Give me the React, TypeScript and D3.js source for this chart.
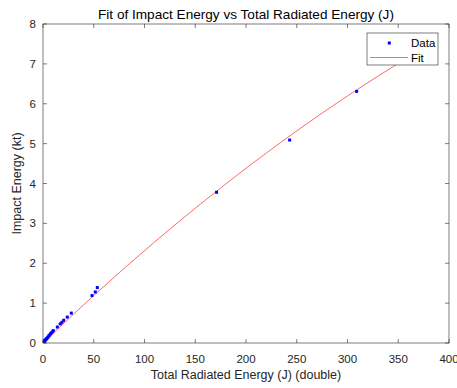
import * as d3 from 'd3'

// measured points (Total Radiated Energy J, Impact Energy kt)
const dataX = [0.3, 0.8, 1.3, 1.8, 2.4, 3.0, 3.6, 4.3, 5.0, 5.8, 6.6, 7.4, 8.2, 9.2, 10.2, 14.1, 17.0, 18.7, 20.4, 23.9, 27.9, 48.3, 51.5, 53.5, 171, 243, 309]
const dataY = [0.01, 0.03, 0.04, 0.06, 0.08, 0.09, 0.11, 0.13, 0.15, 0.18, 0.2, 0.23, 0.25, 0.28, 0.31, 0.4, 0.48, 0.52, 0.57, 0.65, 0.75, 1.19, 1.28, 1.39, 3.78, 5.09, 6.31]

// quadratic fit coefficients
const fitP1 = 0.0244
const fitP2 = -1.25e-5
const fitRange = [0, 355]

const xTicks = [0, 50, 100, 150, 200, 250, 300, 350, 400]
const yTicks = [0, 1, 2, 3, 4, 5, 6, 7, 8]

const W = 457
const H = 388
const axisColor = '#262626'
const font = 'Liberation Sans, Arial, Helvetica, sans-serif'

export default function App() {
  const left = 43, right = 449, top = 24, bottom = 343

  const x = d3.scaleLinear().domain([0, 400]).range([left, right])
  const y = d3.scaleLinear().domain([0, 8]).range([bottom, top])

  const fitXs = d3.range(fitRange[0], fitRange[1] + 1, 5)
  const fitLine = d3.line<number>()
    .x(d => x(d))
    .y(d => y(fitP1 * d + fitP2 * d * d))

  const points = dataX.map((v, i) => ({ x: v, y: dataY[i] }))

  return (
    <svg width={W} height={H} style={{ position: 'absolute', left: 0, top: 0, background: '#fff' }} fontFamily={font}>
      <rect x={0} y={0} width={W} height={H} fill="#fff" />

      <defs>
        <clipPath id="plot">
          <rect x={left} y={top} width={right - left} height={bottom - top} />
        </clipPath>
      </defs>

      {/* fit curve + data */}
      <g clipPath="url(#plot)">
        <path d={fitLine(fitXs) || ''} fill="none" stroke="#ff0000" strokeWidth={0.6} />
        {points.map((p, i) => (
          <rect key={i} x={x(p.x) - 1.5} y={y(p.y) - 1.5} width={3} height={3} fill="#0000ff" />
        ))}
      </g>

      {/* box */}
      <rect x={left} y={top} width={right - left} height={bottom - top} fill="none" stroke={axisColor} strokeWidth={0.6} />

      {/* x ticks */}
      {xTicks.map(t => (
        <g key={'x' + t}>
          <line x1={x(t)} x2={x(t)} y1={bottom} y2={bottom - 4} stroke={axisColor} strokeWidth={0.6} />
          <line x1={x(t)} x2={x(t)} y1={top} y2={top + 4} stroke={axisColor} strokeWidth={0.6} />
          <text x={x(t)} y={363} textAnchor="middle" fontSize={11.5} fill={axisColor}>{t}</text>
        </g>
      ))}

      {/* y ticks */}
      {yTicks.map(t => (
        <g key={'y' + t}>
          <line x1={left} x2={left + 4} y1={y(t)} y2={y(t)} stroke={axisColor} strokeWidth={0.6} />
          <line x1={right} x2={right - 4} y1={y(t)} y2={y(t)} stroke={axisColor} strokeWidth={0.6} />
          <text x={36} y={y(t)} dy="0.35em" textAnchor="end" fontSize={11.5} fill={axisColor}>{t}</text>
        </g>
      ))}

      {/* title and labels */}
      <text x={(left + right) / 2} y={18.5} textAnchor="middle" fontSize={13.6} fill="#000">
        Fit of Impact Energy vs Total Radiated Energy (J)
      </text>
      <text x={(left + right) / 2} y={379} textAnchor="middle" fontSize={12.5} fill={axisColor}>
        Total Radiated Energy (J) (double)
      </text>
      <text transform={`translate(21, ${(top + bottom) / 2}) rotate(-90)`} textAnchor="middle" fontSize={12.5} fill={axisColor}>
        Impact Energy (kt)
      </text>

      {/* legend */}
      <g>
        <rect x={367} y={33} width={71} height={32} fill="#fff" stroke={axisColor} strokeWidth={0.6} />
        <rect x={389.3 - 1.5} y={43 - 1.5} width={3} height={3} fill="#0000ff" />
        <text x={411} y={43} dy="0.35em" fontSize={11.5} fill="#000">Data</text>
        <line x1={370} x2={408} y1={57.5} y2={57.5} stroke="#ff0000" strokeWidth={0.6} />
        <text x={411} y={57.5} dy="0.35em" fontSize={11.5} fill="#000">Fit</text>
      </g>
    </svg>
  )
}
